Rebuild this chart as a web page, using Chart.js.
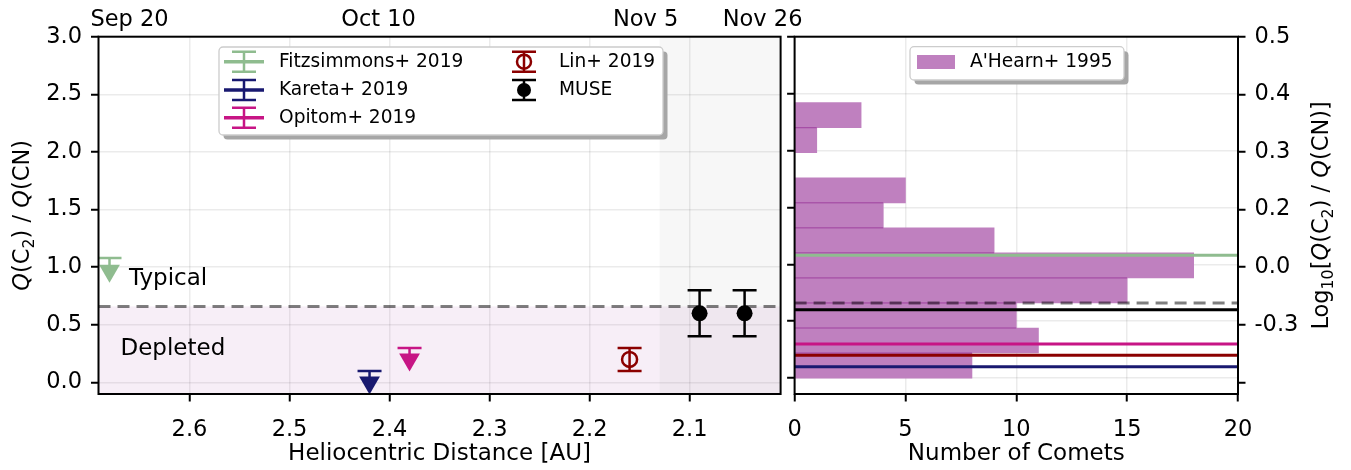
<!DOCTYPE html>
<html>
<head>
<meta charset="utf-8">
<script src="https://cdn.jsdelivr.net/npm/chart.js@4.4.1/dist/chart.umd.min.js"></script>
<style>
  html, body { margin: 0; padding: 0; background: #fff; }
  #wrap { position: relative; width: 1351px; height: 470px; overflow: hidden; }
  #leftBox { position: absolute; left: 0; top: 0; width: 820px; height: 470px; z-index: 2; }
  #rightBox { position: absolute; left: 760px; top: 0; width: 591px; height: 470px; z-index: 1; }
</style>
</head>
<body>
<div id="wrap">
  <div id="rightBox"><canvas id="rightChart"></canvas></div>
  <div id="leftBox"><canvas id="leftChart"></canvas></div>
</div>
<script>
// ---- data ----
const sources = ['Fitzsimmons+ 2019', 'Kareta+ 2019', 'Opitom+ 2019', 'Lin+ 2019', 'MUSE'];

// upper limits: triangle at the value, bar up to the limit
const limitDist  = [2.68, 2.42, 2.38];
const limitValue = [0.97, 0.00, 0.20];
const limitTop   = [1.08, 0.10, 0.30];

const linDist  = [2.16];
const linValue = [0.20];
const linErr   = [0.10];

const museDist  = [2.09, 2.045];
const museValue = [0.60, 0.60];
const museErr   = [0.20, 0.20];

const depletedCut = 0.66;
const museEpochStart = 2.13;

const distTicks  = [2.6, 2.5, 2.4, 2.3, 2.2, 2.1];
const ratioTicks = [0, 0.5, 1, 1.5, 2, 2.5, 3];
const dateLabels = ['Sep 20', 'Oct 10', 'Nov 5', 'Nov 26'];
const dateDist   = [2.66, 2.411, 2.144, 2.027];

// A'Hearn+ 1995 histogram (ratio bins, bottom to top)
const binEdges  = [0, 0.22, 0.44, 0.66, 0.88, 1.10, 1.32, 1.54, 1.76, 1.98, 2.20, 2.42];
const binCounts = [8, 11, 10, 15, 18, 9, 4, 5, 0, 1, 3];
const countTicks = [0, 5, 10, 15, 20];

// level of each source drawn across the histogram (same order as sources)
const sourceLevels = [1.08, 0.10, 0.30, 0.20, 0.60];

// ---- styling ----
const colors = ['#8fbc8f', '#191970', '#c71585', '#8b0000', '#000000'];
const FONT = 'DejaVu Sans';
const tickFont = { family: FONT, size: 22.5 };
const titleFont = { family: FONT, size: 23 };
const gridStyle = { color: 'rgba(0,0,0,0.08)', lineWidth: 1.5, tickColor: '#000', tickLength: 7.5, tickWidth: 2 };
const CAP = 12;
const RIGHT_OFFSET = 760; // page x of the right canvas

const setTicks = vals => scale => { scale.ticks = vals.map(v => ({ value: v })); };

function richText(ctx, parts, cx, cy, size) {
  const fontFor = st => (st === 'i' ? 'italic ' : '') + (st === 's' ? size * 0.7 : size) + 'px "' + FONT + '"';
  let w = 0;
  parts.forEach(([t, st]) => { ctx.font = fontFor(st); w += ctx.measureText(t).width; });
  ctx.save();
  ctx.translate(cx, cy);
  ctx.rotate(-Math.PI / 2);
  ctx.textAlign = 'left';
  ctx.textBaseline = 'alphabetic';
  ctx.fillStyle = '#000';
  let x = -w / 2;
  const base = size * 0.31;
  parts.forEach(([t, st]) => {
    ctx.font = fontFor(st);
    ctx.fillText(t, x, st === 's' ? base + size * 0.22 : base);
    x += ctx.measureText(t).width;
  });
  ctx.restore();
}

function roundRect(ctx, x, y, w, h, r) {
  ctx.beginPath();
  ctx.moveTo(x + r, y);
  ctx.arcTo(x + w, y, x + w, y + h, r);
  ctx.arcTo(x + w, y + h, x, y + h, r);
  ctx.arcTo(x, y + h, x, y, r);
  ctx.arcTo(x, y, x + w, y, r);
  ctx.closePath();
}

function legendFrame(ctx, x, y, w, h) {
  roundRect(ctx, x + 4.5, y + 4.5, w, h, 4);
  ctx.fillStyle = '#a6a6a6';
  ctx.fill();
  roundRect(ctx, x, y, w, h, 4);
  ctx.fillStyle = '#fff';
  ctx.fill();
  ctx.strokeStyle = '#cccccc';
  ctx.lineWidth = 1.3;
  ctx.stroke();
}

function spines(ctx, a) {
  ctx.save();
  ctx.strokeStyle = '#000';
  ctx.lineWidth = 2;
  ctx.strokeRect(a.left, a.top, a.right - a.left, a.bottom - a.top);
  ctx.restore();
}

function vbar(ctx, X, Y1, Y2, capLow, color) {
  ctx.strokeStyle = color;
  ctx.lineWidth = 2.5;
  ctx.beginPath();
  ctx.moveTo(X, Y1); ctx.lineTo(X, Y2);
  ctx.moveTo(X - CAP, Y2); ctx.lineTo(X + CAP, Y2);
  if (capLow) { ctx.moveTo(X - CAP, Y1); ctx.lineTo(X + CAP, Y1); }
  ctx.stroke();
}

// ---- left panel ----
const leftDecor = {
  id: 'leftDecor',
  beforeDatasetsDraw(chart) {
    const { ctx, chartArea: a, scales: { x, y } } = chart;
    ctx.save();
    ctx.beginPath();
    ctx.rect(a.left, a.top, a.right - a.left, a.bottom - a.top);
    ctx.clip();

    const yd = y.getPixelForValue(depletedCut);
    ctx.fillStyle = 'rgba(128,0,128,0.065)';
    ctx.fillRect(a.left, yd, a.right - a.left, a.bottom - yd);

    const xm = x.getPixelForValue(museEpochStart);
    ctx.fillStyle = 'rgba(0,0,0,0.03)';
    ctx.fillRect(xm, a.top, a.right - xm, a.bottom - a.top);

    ctx.strokeStyle = 'rgba(0,0,0,0.5)';
    ctx.lineWidth = 3;
    ctx.setLineDash([12, 7]);
    ctx.beginPath();
    ctx.moveTo(a.left, yd); ctx.lineTo(a.right, yd);
    ctx.stroke();
    ctx.setLineDash([]);

    ctx.fillStyle = '#000';
    ctx.font = '23px "' + FONT + '"';
    ctx.textAlign = 'left';
    ctx.textBaseline = 'alphabetic';
    ctx.fillText('Typical', x.getPixelForValue(2.6605), y.getPixelForValue(0.845));
    ctx.fillText('Depleted', x.getPixelForValue(2.669), y.getPixelForValue(0.24));

    limitDist.forEach((d, i) => {
      vbar(ctx, x.getPixelForValue(d), y.getPixelForValue(limitValue[i]), y.getPixelForValue(limitTop[i]), false, colors[i]);
    });
    linDist.forEach((d, i) => {
      vbar(ctx, x.getPixelForValue(d), y.getPixelForValue(linValue[i] - linErr[i]), y.getPixelForValue(linValue[i] + linErr[i]), true, colors[3]);
    });
    museDist.forEach((d, i) => {
      vbar(ctx, x.getPixelForValue(d), y.getPixelForValue(museValue[i] - museErr[i]), y.getPixelForValue(museValue[i] + museErr[i]), true, colors[4]);
    });
    ctx.restore();
  },
  afterDraw(chart) {
    const { ctx, chartArea: a } = chart;
    spines(ctx, a);
    richText(ctx, [['Q', 'i'], ['(C', 'n'], ['2', 's'], [') / ', 'n'], ['Q', 'i'], ['(CN)', 'n']], 22.5, (a.top + a.bottom) / 2, 22.5);

    // legend
    ctx.save();
    const lx = a.left + 120.5, ly = a.top + 10.3;
    legendFrame(ctx, lx, ly, 444, 88);
    const slots = [[145.5, 25], [145.5, 53.3], [145.5, 81], [425.5, 25], [425.5, 53.3]];
    sources.forEach((name, i) => {
      const hx = a.left + slots[i][0], hy = a.top + slots[i][1];
      const c = colors[i];
      ctx.strokeStyle = c;
      ctx.fillStyle = c;
      if (i < 3) {
        ctx.lineWidth = 3.5;
        ctx.beginPath(); ctx.moveTo(hx - 20, hy); ctx.lineTo(hx + 20, hy); ctx.stroke();
        vbar(ctx, hx, hy + 10, hy - 10, true, c);
      } else {
        vbar(ctx, hx, hy + 10, hy - 10, true, c);
        ctx.beginPath();
        ctx.arc(hx, hy, 7, 0, Math.PI * 2);
        if (i === 3) { ctx.fillStyle = '#fff'; ctx.fill(); ctx.lineWidth = 2.5; ctx.stroke(); ctx.beginPath(); ctx.moveTo(hx, hy - 7); ctx.lineTo(hx, hy + 7); ctx.stroke(); }
        else { ctx.fill(); }
      }
      ctx.fillStyle = '#000';
      ctx.font = '18.6px "' + FONT + '"';
      ctx.textAlign = 'left';
      ctx.textBaseline = 'middle';
      ctx.fillText(name, hx + 35, hy);
    });
    ctx.restore();
  }
};

const triangle = i => ({
  label: sources[i],
  data: [{ x: limitDist[i], y: limitValue[i] }],
  pointStyle: 'triangle', rotation: 180, pointRadius: 12,
  backgroundColor: colors[i], borderColor: colors[i], borderWidth: 0, clip: 0
});

new Chart(document.getElementById('leftChart'), {
  type: 'scatter',
  data: {
    datasets: [
      triangle(0), triangle(1), triangle(2),
      { label: sources[3], data: linDist.map((d, i) => ({ x: d, y: linValue[i] })),
        pointStyle: 'circle', pointRadius: 7.5, backgroundColor: 'rgba(0,0,0,0)', borderColor: colors[3], borderWidth: 2.5, clip: 0 },
      { label: sources[4], data: museDist.map((d, i) => ({ x: d, y: museValue[i] })),
        pointStyle: 'circle', pointRadius: 8, backgroundColor: colors[4], borderColor: colors[4], borderWidth: 0, clip: 0 }
    ]
  },
  options: {
    responsive: true, maintainAspectRatio: false, animation: false, events: [],
    layout: { padding: { left: 0, right: 39.4, top: 0, bottom: 0 } },
    plugins: { legend: { display: false }, tooltip: { enabled: false } },
    scales: {
      x: {
        type: 'linear', position: 'bottom', reverse: true, min: 2.009, max: 2.691,
        afterBuildTicks: setTicks(distTicks),
        ticks: { font: tickFont, color: '#000', padding: 15, autoSkip: false, maxRotation: 0, callback: v => v.toFixed(1) },
        grid: gridStyle, border: { display: false },
        title: { display: true, text: 'Heliocentric Distance [AU]', font: titleFont, color: '#000', padding: { top: 0, bottom: 2 } },
        afterFit: s => { s.height = 76; }
      },
      xTop: {
        type: 'linear', position: 'top', reverse: true, min: 2.009, max: 2.691,
        afterBuildTicks: setTicks(dateDist),
        ticks: { font: tickFont, color: '#000', padding: 3, autoSkip: false, maxRotation: 0, callback: (v, i) => dateLabels[i] },
        grid: { display: false, drawTicks: false }, border: { display: false },
        afterFit: s => { s.height = 36.7; }
      },
      y: {
        type: 'linear', position: 'left', min: -0.1, max: 3.0,
        afterBuildTicks: setTicks(ratioTicks),
        ticks: { font: tickFont, color: '#000', padding: 9, autoSkip: false, callback: v => v.toFixed(1) },
        grid: gridStyle, border: { display: false },
        afterFit: s => { s.width = 98.5; }
      }
    }
  },
  plugins: [leftDecor]
});

// ---- right panel ----
const rightDecor = {
  id: 'rightDecor',
  afterDatasetsDraw(chart) {
    const { ctx, chartArea: a, scales: { x, y } } = chart;
    ctx.save();
    ctx.beginPath();
    ctx.rect(a.left, a.top, a.right - a.left, a.bottom - a.top);
    ctx.clip();
    // thin seams between neighbouring bins
    ctx.strokeStyle = 'rgba(128,0,128,0.5)';
    ctx.lineWidth = 1;
    for (let i = 0; i < binCounts.length - 1; i++) {
      const m = Math.min(binCounts[i], binCounts[i + 1]);
      if (m <= 0) continue;
      const py = y.getPixelForValue(binEdges[i + 1]);
      ctx.beginPath(); ctx.moveTo(x.getPixelForValue(0), py); ctx.lineTo(x.getPixelForValue(m), py); ctx.stroke();
    }
    // dashed depletion threshold
    const yd = y.getPixelForValue(depletedCut);
    ctx.strokeStyle = 'rgba(0,0,0,0.5)';
    ctx.lineWidth = 3;
    ctx.setLineDash([12, 7]);
    ctx.beginPath(); ctx.moveTo(a.left, yd); ctx.lineTo(a.right, yd); ctx.stroke();
    ctx.setLineDash([]);
    // levels of each source
    sourceLevels.forEach((v, i) => {
      const py = y.getPixelForValue(v);
      ctx.strokeStyle = colors[i];
      ctx.lineWidth = 3;
      ctx.beginPath(); ctx.moveTo(a.left, py); ctx.lineTo(a.right, py); ctx.stroke();
    });
    ctx.restore();
  },
  afterDraw(chart) {
    const { ctx, chartArea: a } = chart;
    spines(ctx, a);
    ctx.save();
    legendFrame(ctx, a.left + 115.4, a.top + 10, 214, 33.3);
    ctx.fillStyle = '#bf80bf';
    ctx.fillRect(a.left + 122.4, a.top + 18.3, 38, 14);
    ctx.fillStyle = '#000';
    ctx.font = '18.6px "' + FONT + '"';
    ctx.textAlign = 'left';
    ctx.textBaseline = 'middle';
    ctx.fillText("A'Hearn+ 1995", a.left + 175.4, a.top + 25.6);
    ctx.restore();
    richText(ctx, [['Log', 'n'], ['10', 's'], ['[', 'n'], ['Q', 'i'], ['(C', 'n'], ['2', 's'], [') / ', 'n'], ['Q', 'i'], ['(CN)]', 'n']],
      1321 - RIGHT_OFFSET, (a.top + a.bottom) / 2, 22.5);
  }
};

new Chart(document.getElementById('rightChart'), {
  type: 'bar',
  data: {
    datasets: [{
      label: "A'Hearn+ 1995",
      data: binCounts.map((c, i) => ({ x: c, y: (binEdges[i] + binEdges[i + 1]) / 2 })),
      backgroundColor: '#bf80bf', borderWidth: 0,
      barPercentage: 1, categoryPercentage: 1
    }]
  },
  options: {
    indexAxis: 'y',
    responsive: true, maintainAspectRatio: false, animation: false, events: [],
    layout: { padding: { left: 0, right: 0, top: 36.7, bottom: 0 } },
    plugins: { legend: { display: false }, tooltip: { enabled: false } },
    scales: {
      x: {
        type: 'linear', position: 'bottom', min: 0, max: 20,
        afterBuildTicks: setTicks(countTicks),
        ticks: { font: tickFont, color: '#000', padding: 15, autoSkip: false, maxRotation: 0 },
        grid: gridStyle, border: { display: false },
        title: { display: true, text: 'Number of Comets', font: titleFont, color: '#000', padding: { top: 0, bottom: 2 } },
        afterFit: s => { s.height = 76; }
      },
      y: {
        type: 'linear', position: 'left', min: -0.14, max: 3.0, offset: false,
        afterBuildTicks: setTicks(ratioTicks),
        ticks: { font: tickFont, autoSkip: false, callback: () => '' },
        grid: Object.assign({}, gridStyle, { offset: false }), border: { display: false },
        afterFit: s => { s.width = 794.6 - RIGHT_OFFSET; }
      },
      y2: {
        type: 'linear', position: 'right', min: -0.1, max: 3.0, offset: false,
        afterBuildTicks: setTicks(ratioTicks),
        ticks: { font: tickFont, color: '#000', padding: 9, autoSkip: false,
                 callback: v => v > 0 ? Math.log10(v).toFixed(1) : '' },
        grid: Object.assign({}, gridStyle, { drawOnChartArea: false, offset: false }), border: { display: false },
        afterFit: s => { s.width = 113; }
      }
    }
  },
  plugins: [rightDecor]
});
</script>
</body>
</html>
